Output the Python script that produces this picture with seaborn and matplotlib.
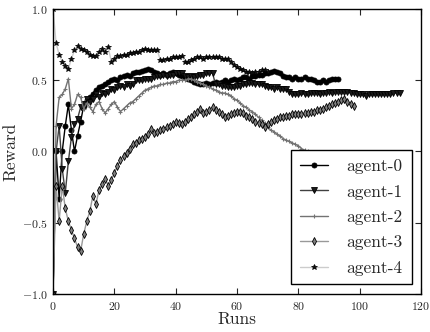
import numpy as np
import pandas as pd
import matplotlib
matplotlib.use("Agg")
import matplotlib.pyplot as plt
import seaborn as sns

agent0 = [-1.0, 0.0, -0.33, 0.0, 0.18, 0.33, 0.15, 0.0, 0.11, 0.21, 0.32, 0.36, 0.38, 0.40, 0.43, 0.45,
          0.46, 0.47, 0.49, 0.50, 0.51, 0.50, 0.52, 0.53, 0.54, 0.53, 0.55, 0.555, 0.56, 0.565, 0.57,
          0.58, 0.57, 0.56, 0.55, 0.54, 0.55, 0.54, 0.55, 0.56, 0.55, 0.54, 0.53, 0.52, 0.51, 0.50,
          0.49, 0.48, 0.47, 0.47, 0.48, 0.47, 0.48, 0.49, 0.48, 0.49, 0.50, 0.49, 0.50, 0.51, 0.50,
          0.51, 0.52, 0.52, 0.51, 0.53, 0.53, 0.54, 0.54, 0.55, 0.55, 0.56, 0.565, 0.56, 0.55, 0.53,
          0.52, 0.52, 0.51, 0.52, 0.51, 0.51, 0.52, 0.51, 0.51, 0.50, 0.49, 0.49, 0.50, 0.49, 0.50,
          0.51, 0.51, 0.51]
agent1 = [-1.0, 0.0, 0.18, -0.12, -0.29, -0.07, 0.10, 0.19, 0.23, 0.31, 0.33, 0.37, 0.35, 0.37, 0.40,
          0.38, 0.41, 0.40, 0.42, 0.44, 0.43, 0.45, 0.46, 0.45, 0.47, 0.46, 0.47, 0.50, 0.50, 0.50,
          0.51, 0.51, 0.51, 0.52, 0.53, 0.53, 0.54, 0.53, 0.54, 0.54, 0.55, 0.55, 0.55, 0.53, 0.52,
          0.53, 0.52, 0.53, 0.54, 0.54, 0.55, 0.55, 0.55, 0.47, 0.47, 0.46, 0.46, 0.45, 0.45, 0.45,
          0.46, 0.46, 0.47, 0.47, 0.48, 0.48, 0.47, 0.47, 0.47, 0.46, 0.45, 0.45, 0.44, 0.45, 0.44,
          0.44, 0.44, 0.42, 0.40, 0.40, 0.40, 0.41, 0.40, 0.40, 0.41, 0.41, 0.41, 0.40, 0.41, 0.41,
          0.42, 0.41, 0.42, 0.42, 0.42, 0.42, 0.42, 0.41, 0.41, 0.40, 0.40, 0.40, 0.39, 0.40, 0.40,
          0.40, 0.40, 0.40, 0.40, 0.40, 0.40, 0.41, 0.41, 0.41]
agent2 = [-1.0, 0.18, 0.38, 0.40, 0.44, 0.51, 0.30, 0.33, 0.40, 0.38, 0.30, 0.34, 0.31, 0.28, 0.33,
          0.35, 0.30, 0.27, 0.30, 0.33, 0.35, 0.31, 0.28, 0.30, 0.32, 0.34, 0.35, 0.37, 0.39, 0.41,
          0.43, 0.44, 0.45, 0.46, 0.46, 0.47, 0.47, 0.48, 0.48, 0.49, 0.49, 0.50, 0.50, 0.50, 0.51,
          0.51, 0.50, 0.49, 0.48, 0.47, 0.46, 0.45, 0.44, 0.43, 0.42, 0.41, 0.41, 0.40, 0.39, 0.37,
          0.36, 0.34, 0.32, 0.31, 0.29, 0.28, 0.26, 0.24, 0.22, 0.20, 0.17, 0.15, 0.14, 0.12, 0.11,
          0.09, 0.08, 0.07, 0.06, 0.05, 0.04, 0.02, 0.01, 0.0, -0.01, -0.01]
agent3 = [-1.0, -0.24, -0.49, -0.24, -0.40, -0.49, -0.55, -0.61, -0.67, -0.70, -0.58, -0.49, -0.42,
          -0.31, -0.37, -0.27, -0.23, -0.19, -0.24, -0.20, -0.15, -0.10, -0.06, -0.03, -0.01, 0.02,
          0.05, 0.06, 0.08, 0.09, 0.10, 0.12, 0.16, 0.13, 0.14, 0.15, 0.16, 0.17, 0.18, 0.19, 0.21,
          0.20, 0.19, 0.21, 0.23, 0.24, 0.26, 0.28, 0.30, 0.27, 0.28, 0.29, 0.31, 0.29, 0.28, 0.26,
          0.24, 0.25, 0.26, 0.27, 0.28, 0.28, 0.27, 0.25, 0.24, 0.23, 0.21, 0.20, 0.19, 0.17, 0.19,
          0.21, 0.22, 0.23, 0.24, 0.24, 0.25, 0.25, 0.26, 0.26, 0.26, 0.26, 0.27, 0.27, 0.28, 0.28,
          0.29, 0.29, 0.30, 0.31, 0.32, 0.33, 0.34, 0.35, 0.36, 0.37, 0.35, 0.33, 0.32]
agent4 = [1.0, 0.76, 0.68, 0.63, 0.60, 0.58, 0.65, 0.71, 0.74, 0.72, 0.71, 0.70, 0.68, 0.67, 0.67,
          0.70, 0.72, 0.70, 0.73, 0.63, 0.65, 0.67, 0.67, 0.68, 0.68, 0.69, 0.69, 0.70, 0.70, 0.71,
          0.72, 0.71, 0.71, 0.71, 0.71, 0.64, 0.64, 0.65, 0.65, 0.66, 0.66, 0.66, 0.67, 0.63, 0.63,
          0.64, 0.65, 0.66, 0.66, 0.65, 0.66, 0.66, 0.66, 0.66, 0.66, 0.65, 0.65, 0.65, 0.63, 0.61,
          0.59, 0.58, 0.57, 0.56, 0.56, 0.55, 0.56, 0.56, 0.57, 0.57, 0.56]

names = ["agent-0", "agent-1", "agent-2", "agent-3", "agent-4"]
series = [agent0, agent1, agent2, agent3, agent4]
xticks = [0, 20, 40, 60, 80, 100, 120]
yticks = [-1.0, -0.5, 0.0, 0.5, 1.0]

sns.set_style("ticks")
plt.rcParams.update({
    "font.family": "cmr10",
    "mathtext.fontset": "cm",
    "axes.formatter.use_mathtext": True,
    "axes.unicode_minus": True,
})

styles = [
    dict(color="0.0", marker="o", ms=3.6, mfc="0.0", mew=0.6),
    dict(color="0.25", marker="v", ms=4.2, mfc="0.1", mew=0.6),
    dict(color="0.45", marker="+", ms=3.2, mfc="0.45", mew=0.8),
    dict(color="0.6", marker="d", ms=4.0, mfc="0.5", mew=0.6),
    dict(color="0.8", marker="*", ms=4.2, mfc="0.05", mew=0.5),
]

fig = plt.figure(figsize=(4.31, 3.32), dpi=100)
ax = fig.add_axes([0.123, 0.1145, 0.854, 0.8585])

for name, vals, st in zip(names, series, styles):
    df = pd.DataFrame({"Runs": np.arange(len(vals)), "Reward": vals})
    mec = st["color"] if st["marker"] == "+" else "k"
    sns.lineplot(data=df, x="Runs", y="Reward", ax=ax, color=st["color"],
                 marker=st["marker"], markersize=st["ms"], markeredgecolor=mec,
                 markerfacecolor=st["mfc"], markeredgewidth=st["mew"],
                 linewidth=1.0, label=name)

ax.set_xlim(0, 120)
ax.set_ylim(-1.0, 1.0)
ax.set_xticks(xticks)
ax.set_yticks(yticks)
ax.tick_params(direction="in", top=True, right=True, length=4, width=0.8,
               labelsize=8.5, pad=4)
for sp in ax.spines.values():
    sp.set_linewidth(1.0)
    sp.set_color("black")
ax.set_xlabel("Runs", fontsize=12.5, labelpad=0)
ax.set_ylabel("Reward", fontsize=12.5, labelpad=2)

leg = ax.legend(loc="lower right", fontsize=12.5, fancybox=False, framealpha=1,
                edgecolor="black", handlelength=1.6, borderaxespad=0.55,
                labelspacing=0.58, borderpad=0.5, handletextpad=1.1)
leg.get_frame().set_linewidth(1.0)
for h, st in zip(leg.legend_handles, styles):
    h.set_markeredgecolor(st["color"] if st["marker"] == "+" else "k")
    h.set_markerfacecolor(st["mfc"])

fig.savefig("out.png", dpi=100)
